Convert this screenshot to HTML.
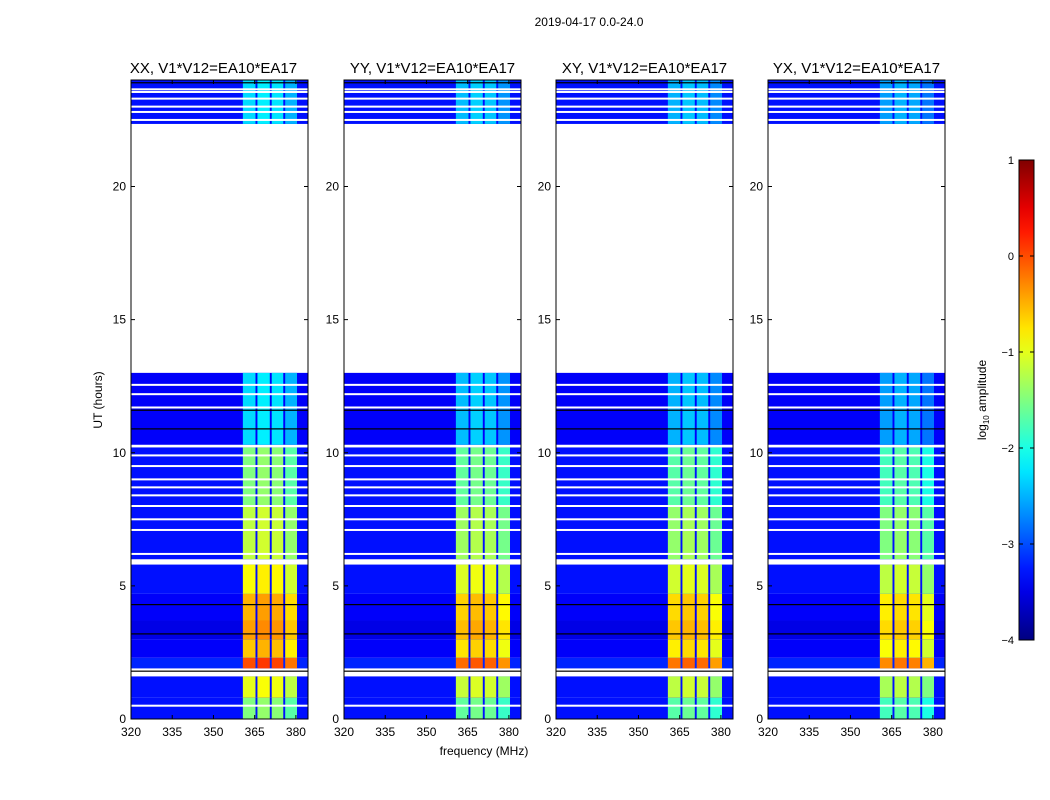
<!DOCTYPE html>
<html><head><meta charset="utf-8"><style>
body{margin:0;background:#fff;font-family:"Liberation Sans",sans-serif;}
#wrap{position:relative;width:1050px;height:800px;overflow:hidden}
</style></head><body>
<div id="wrap">
<svg id="svg" width="1050" height="800" style="position:absolute;left:0;top:0"></svg>
</div>
<script>
// ---- data ----
const panelTitles = ["XX, V1*V12=EA10*EA17","YY, V1*V12=EA10*EA17","XY, V1*V12=EA10*EA17","YX, V1*V12=EA10*EA17"];
const panelOffset = [0, -0.15, -0.2, -0.3];
const segStart = [0.0, 0.8, 1.9, 2.3, 3.0, 3.7, 4.7, 6.0, 8.0, 10.3, 22.35];
const segEnd   = [0.8, 1.6, 2.3, 3.0, 3.7, 4.7, 5.8, 8.0, 10.2, 13.0, 24.0];
const bgLevel  = [-3.3,-3.3,-3.2,-3.4,-3.5,-3.4,-3.3,-3.3,-3.3,-3.4,-3.3];
const bandLevel= [-1.5,-1.0, 0.0,-0.6,-0.4,-0.5,-0.9,-1.2,-1.5,-2.3,-2.3];
const subBandStart = [360.7, 366.0, 371.2, 376.1];
const subBandEnd   = [365.3, 370.5, 375.4, 380.4];
const subBandAdj   = [0.0, 0.1, 0.05, -0.2];
const whiteLines = [0.5,1.65,5.85,6.2,7.1,7.5,8.0,8.4,8.7,9.0,9.5,9.9,10.25,11.7,12.2,12.55,22.5,22.8,23.0,23.3,23.55,23.65];
const blackLines = [1.8,3.2,4.3,10.9,11.6,23.9];
const xTicks = [320,335,350,365,380];
const yTicks = [0,5,10,15,20];
const cbTicks = [1,0,-1,-2,-3,-4];
const cbLabels = ["1","0","\u22121","\u22122","\u22123","\u22124"];

// ---- layout ----
const panelX = [131,344,556,768], PW=177, PT=80, PB=719;
const titleShift = [-6,0,0,0];
const fmin=320, fmax=384.4, tmax=24;
const ns="http://www.w3.org/2000/svg";
const svg=document.getElementById('svg');
function el(tag,attrs,parent){const e=document.createElementNS(ns,tag);for(const k in attrs)e.setAttribute(k,attrs[k]);(parent||svg).appendChild(e);return e;}
function jet(v){
  const c=x=>Math.max(0,Math.min(1,x));
  const r=c(1.5-Math.abs(4*v-3)), g=c(1.5-Math.abs(4*v-2)), b=c(1.5-Math.abs(4*v-1));
  return `rgb(${Math.round(r*255)},${Math.round(g*255)},${Math.round(b*255)})`;
}
const lv=l=>jet(Math.max(0,Math.min(1,(l+4)/5)));

panelX.forEach((px,p)=>{
  const xs=f=>px+(f-fmin)/(fmax-fmin)*PW;
  const ys=t=>PB-(t/tmax)*(PB-PT);
  const g=el('g',{},svg);
  
  
  for(let i=0;i<segStart.length;i++){
    const y0=ys(segEnd[i]), y1=ys(segStart[i]);
    const r=el('rect',{x:px,y:y0,width:PW,height:y1-y0,fill:lv(bgLevel[i])},g);
    
    
    for(let j=0;j<subBandStart.length;j++){
      const b=el('rect',{x:xs(subBandStart[j]),y:y0,width:xs(subBandEnd[j])-xs(subBandStart[j]),height:y1-y0,fill:lv(bandLevel[i]+panelOffset[p]+subBandAdj[j])},g);
      
      
    }
  }
  whiteLines.forEach(t=>{const l=el('rect',{x:px,y:ys(t)-1,width:PW,height:2,fill:'#fff'},g);
    
    });
  blackLines.forEach(t=>{const l=el('rect',{x:px,y:ys(t)-0.5,width:PW,height:1.2,fill:'#000'},g);
    
    });
  const fr=el('rect',{x:px,y:PT,width:PW,height:PB-PT,fill:'none',stroke:'#000','stroke-width':1},g);
  
  
  xTicks.forEach(f=>{const x=xs(f);
    el('line',{x1:x,x2:x,y1:PB,y2:PB-4,stroke:'#000'},g);el('line',{x1:x,x2:x,y1:PT,y2:PT+4,stroke:'#000'},g);
    const t=el('text',{x:x,y:PB+17,'font-size':12,'text-anchor':'middle'},g);t.textContent=f;
    
    });
  yTicks.forEach(v=>{const y=ys(v);
    el('line',{x1:px,x2:px+4,y1:y,y2:y,stroke:'#000'},g);el('line',{x1:px+PW,x2:px+PW-4,y1:y,y2:y,stroke:'#000'},g);
    const t=el('text',{x:px-5,y:y+4,'font-size':12,'text-anchor':'end'},g);t.textContent=v;
    
    });
  const tt=el('text',{x:px+PW/2+titleShift[p],y:73,'font-size':15,'text-anchor':'middle'},g);tt.textContent=panelTitles[p];
  
  
});
let t=el('text',{x:589,y:26,'font-size':12,'text-anchor':'middle'});t.textContent='2019-04-17 0.0-24.0';

t=el('text',{x:484,y:755,'font-size':12,'text-anchor':'middle'});t.textContent='frequency (MHz)';

t=el('text',{x:102,y:400,'font-size':12,'text-anchor':'middle',transform:'rotate(-90 102 400)'});t.textContent='UT (hours)';

const CBX=1019,CBW=15,CBT=160,CBB=640,cbMax=1,cbMin=-4;
const cy=v=>CBB-(v-cbMin)/(cbMax-cbMin)*(CBB-CBT);
const defs=el('defs',{});const grad=el('linearGradient',{id:'jg',x1:0,y1:1,x2:0,y2:0},defs);
for(let i=0;i<=20;i++){el('stop',{offset:i/20,'stop-color':jet(i/20)},grad);}
const cb=el('rect',{x:CBX,y:CBT,width:CBW,height:CBB-CBT,fill:'url(#jg)',stroke:'#000'});

cbTicks.forEach((v,i)=>{const y=cy(v);
  el('line',{x1:CBX,x2:CBX+4,y1:y,y2:y,stroke:'#000'});el('line',{x1:CBX+CBW,x2:CBX+CBW-4,y1:y,y2:y,stroke:'#000'});
  const tx=el('text',{x:CBX-5,y:y+4,'font-size':11,'text-anchor':'end'});tx.textContent=cbLabels[i];
  });
t=el('text',{x:986,y:400,'font-size':12,'text-anchor':'middle',transform:'rotate(-90 986 400)'});
t.innerHTML='log<tspan font-size="8" dy="3">10</tspan><tspan dy="-3"> amplitude</tspan>';

</script>
</body></html>
